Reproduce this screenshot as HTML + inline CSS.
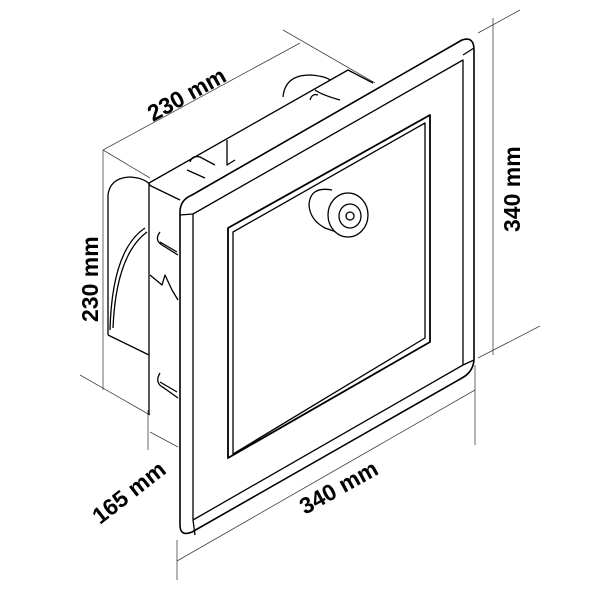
<!DOCTYPE html>
<html><head><meta charset="utf-8"><style>
html,body{margin:0;padding:0;background:#fff;}
svg{display:block}
text{font-family:"Liberation Sans",sans-serif;font-weight:bold;font-size:23px;fill:#000}
</style></head><body>
<svg width="600" height="600" viewBox="0 0 600 600" xmlns="http://www.w3.org/2000/svg">
<g stroke="#444" stroke-width="0.8" fill="none">
  <line x1="103" y1="150" x2="300" y2="43"/>
  <line x1="103" y1="150" x2="150" y2="178"/>
  <line x1="283" y1="30" x2="375" y2="83"/>
  <line x1="493" y1="18" x2="493" y2="355"/>
  <line x1="478" y1="33" x2="520" y2="10"/>
  <line x1="478" y1="358" x2="540" y2="326"/>
  <line x1="103" y1="150" x2="103" y2="390"/>
  <line x1="80" y1="375" x2="150" y2="415"/>
  <line x1="148" y1="410" x2="148" y2="450"/>
  <line x1="150" y1="432" x2="178" y2="447"/>
  <line x1="177" y1="540" x2="177" y2="580"/>
  <line x1="177" y1="561" x2="475" y2="390"/>
  <line x1="475" y1="365" x2="475" y2="445"/>
</g>
<g stroke="#000" stroke-width="1.3" fill="none" stroke-linejoin="round">
  <polyline points="149,415 149,183 348,70 373,83"/>
  <line x1="149" y1="185" x2="180" y2="200"/>
  <path d="M283,97 Q285,75 310,75 Q325,76 330,80"/>
  <path d="M315,90 Q322,95 340,100 M310,100 Q312,93 318,95"/>
  <path d="M190,162 Q192,155 200,157 L215,165 M187,170 L205,178"/>
  <polyline points="227,140 227,165 235,160"/>
  <path d="M108,335 L108,195 Q110,178 130,177 Q145,178 150,185"/>
  <path d="M110,330 Q112,250 145,228 M113,328 Q116,255 147,232"/>
  <line x1="108" y1="335" x2="149" y2="355"/>
  <path d="M160,232 Q154,240 162,245 L178,255 M160,242 L177,252"/>
  <path d="M160,373 Q154,383 164,388 L178,398 M160,382 L177,392"/>
  <path d="M150,275 L162,285 L165,275 L172,290 L178,300"/>
  <path d="M180,212 Q180,200 192,195 L462,40 Q474,36 474,50 L474,360 Q473,372 462,378 L192,532 Q180,537 180,525 Z" stroke-width="1.6" fill="#fff"/>
  <path d="M193,214 L463,60 L463,365 L193,520 Z"/>
  <line x1="180" y1="215" x2="193" y2="214"/>
  <line x1="463" y1="55" x2="474" y2="48"/>
  <line x1="463" y1="365" x2="474" y2="360"/>
  <line x1="193" y1="520" x2="195" y2="535"/>
  <path d="M228,228 L430,115 L430,342 L228,458 Z" stroke-width="1.8"/>
  <path d="M233,232 L425,123 L425,338 L233,454 Z"/>
  <path d="M332,190 Q310,186 309,205 Q310,220 325,228 L345,235" fill="#fff"/>
  <ellipse cx="348" cy="215" rx="20" ry="22" fill="#fff"/>
  <ellipse cx="350" cy="216" rx="11" ry="12"/>
  <circle cx="350" cy="216" r="4"/>
</g>
<text transform="translate(153,122) rotate(-29)">230 mm</text>
<text transform="translate(520,232) rotate(-90)">340 mm</text>
<text transform="translate(98,322) rotate(-90)">230 mm</text>
<text transform="translate(100,525) rotate(-38)">165 mm</text>
<text transform="translate(305,515) rotate(-29)">340 mm</text>
</svg>
</body></html>
